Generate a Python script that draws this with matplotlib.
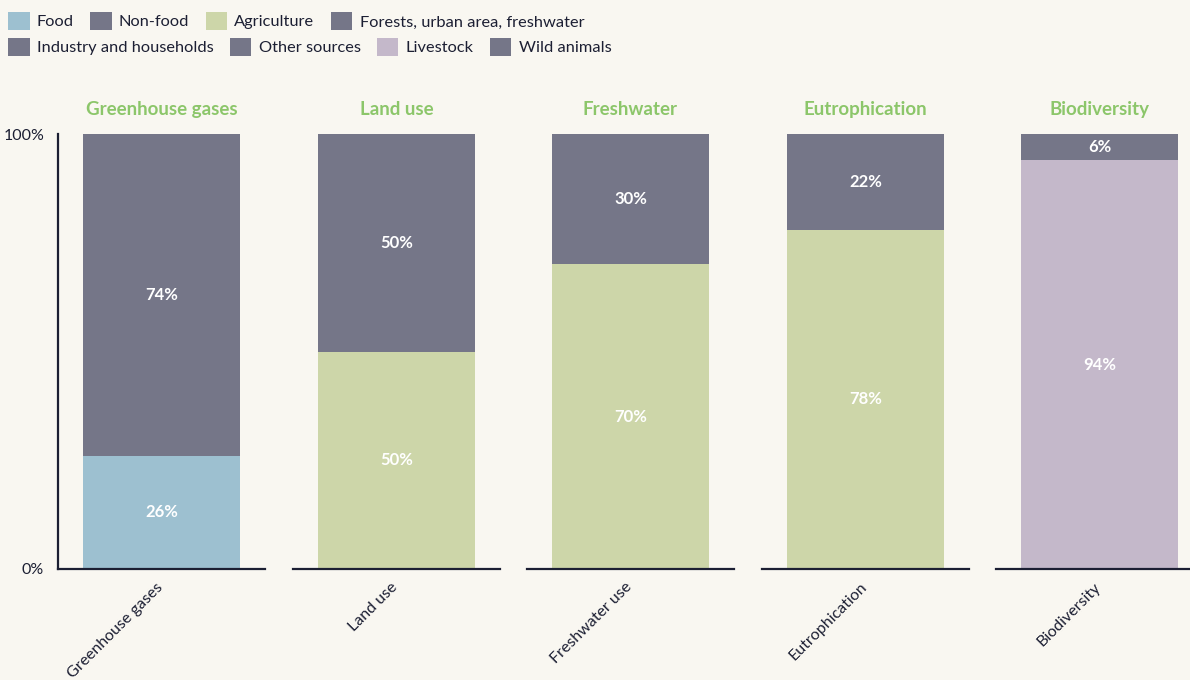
import matplotlib.pyplot as plt
from matplotlib.patches import Patch
from matplotlib.transforms import ScaledTranslation

plt.rcParams['font.family'] = ['Lato', 'DejaVu Sans']

# data
panels = ["Greenhouse gases", "Land use", "Freshwater", "Eutrophication", "Biodiversity"]
xlabels = ["Greenhouse gases", "Land use", "Freshwater use", "Eutrophication", "Biodiversity"]
lower_vals = [26, 50, 70, 78, 94]
upper_vals = [74, 50, 30, 22, 6]
lower_names = ["Food", "Agriculture", "Agriculture", "Agriculture", "Livestock"]
upper_names = ["Non-food", "Forests, urban area, freshwater", "Industry and households",
               "Other sources", "Wild animals"]

colors = {
    "Food": "#9dc0d0",
    "Non-food": "#757688",
    "Agriculture": "#cdd6a9",
    "Forests, urban area, freshwater": "#757688",
    "Industry and households": "#757688",
    "Other sources": "#757688",
    "Livestock": "#c4b8ca",
    "Wild animals": "#757688",
}
legend_row1 = ["Food", "Non-food", "Agriculture", "Forests, urban area, freshwater"]
legend_row2 = ["Industry and households", "Other sources", "Livestock", "Wild animals"]

bg = '#f9f7f1'
dark = '#1c1f33'
title_green = '#8cc66a'

fig = plt.figure(figsize=(11.9, 6.8), dpi=100, facecolor=bg)

W, H = 1190, 680
lefts = [58, 293, 527, 762, 996]
for i in range(len(panels)):
    ax = fig.add_axes([lefts[i] / W, 1 - 569 / H, 207 / W, 435 / H])
    ax.set_facecolor(bg)
    ax.set_xlim(-0.5, 0.5)
    ax.set_ylim(0, 100)
    ax.bar(0, lower_vals[i], width=0.76, color=colors[lower_names[i]])
    ax.bar(0, upper_vals[i], bottom=lower_vals[i], width=0.76, color=colors[upper_names[i]])
    ax.text(0, lower_vals[i] / 2, f"{lower_vals[i]}%", ha='center', va='center',
            color='white', fontsize=12, fontweight='bold')
    ax.text(0, lower_vals[i] + upper_vals[i] / 2, f"{upper_vals[i]}%", ha='center', va='center',
            color='white', fontsize=12, fontweight='bold')
    ax.set_title(panels[i], color=title_green, fontsize=13.5, fontweight='bold', pad=14)
    for s in ['top', 'right']:
        ax.spines[s].set_visible(False)
    ax.spines['bottom'].set_color(dark)
    ax.spines['bottom'].set_linewidth(1.6)
    ax.set_xticks([0])
    ax.set_xticklabels([xlabels[i]], rotation=45, ha='right', rotation_mode='anchor',
                       fontsize=11.5, color=dark)
    ax.tick_params(axis='x', length=0, pad=8)
    for lab in ax.get_xticklabels():
        lab.set_transform(lab.get_transform() + ScaledTranslation(-6 / 100, 0, fig.dpi_scale_trans))
    if i == 0:
        ax.spines['left'].set_color(dark)
        ax.spines['left'].set_linewidth(1.6)
        ax.set_yticks([0, 100])
        ax.set_yticklabels(["0%", "100%"], fontsize=11.5, color=dark)
        ax.tick_params(axis='y', length=0, pad=10)
    else:
        ax.spines['left'].set_visible(False)
        ax.set_yticks([])

for row, y in [(legend_row1, 1 - 21 / H), (legend_row2, 1 - 47 / H)]:
    handles = [Patch(facecolor=colors[n], edgecolor='none') for n in row]
    fig.legend(handles, row, loc='center left', bbox_to_anchor=(0.0, y), ncol=4,
               frameon=False, fontsize=11.8, handlelength=1.3, handleheight=1.3,
               handletextpad=0.45, columnspacing=1.0, borderaxespad=0.1,
               labelcolor=dark)

fig.savefig('out.png', dpi=100, facecolor=bg)
